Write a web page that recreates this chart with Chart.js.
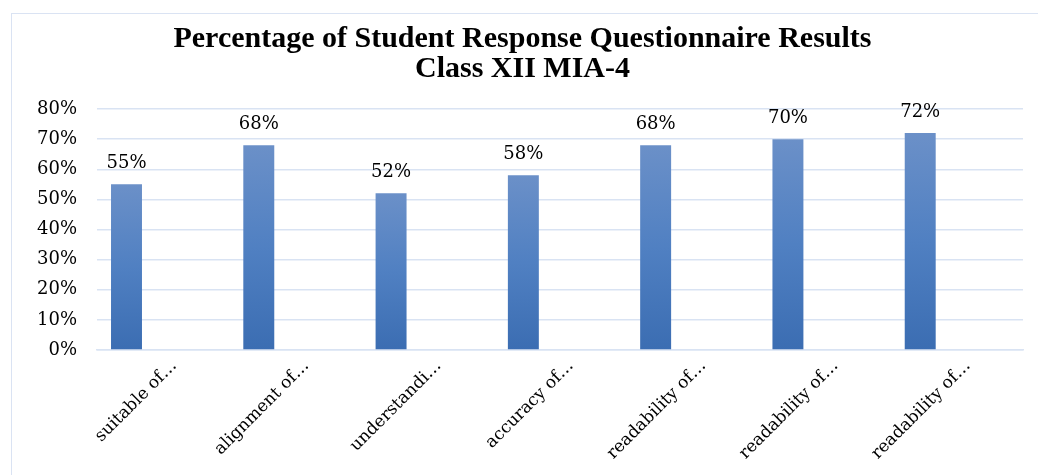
<!DOCTYPE html>
<html>
<head>
<meta charset="utf-8">
<script src="https://cdn.jsdelivr.net/npm/chart.js@4/dist/chart.umd.min.js"></script>
<style>
  html, body { margin: 0; padding: 0; background: #ffffff; overflow: hidden; }
  #frame { position: absolute; left: 11px; top: 13px; width: 1060px; height: 500px; border: 1.5px solid #dae3f3; box-sizing: border-box; }
  #c { position: absolute; left: 0; top: 0; }
</style>
</head>
<body>
<div id="frame"></div>
<canvas id="c" width="1038" height="475"></canvas>
<script>
const titleLines = ["Percentage of Student Response Questionnaire Results", "Class XII MIA-4"];
const categories = ["suitable of…", "alignment of…", "understandi…", "accuracy of…", "readability of…", "readability of…", "readability of…"];
const percentValues = [0.55, 0.68, 0.52, 0.58, 0.68, 0.70, 0.72];
const emptySeriesA = [null, null, null, null, null, null, null];
const emptySeriesB = [null, null, null, null, null, null, null];
const yTickMax = 0.8;
const yTickStep = 0.1;

const serif = "'DejaVu Serif', serif";

function barGradient(ctx) {
  const chart = ctx.chart;
  const area = chart.chartArea;
  if (!area || ctx.raw == null) return '#4f7fc0';
  const yScale = chart.scales.y;
  const top = yScale.getPixelForValue(ctx.raw);
  const bottom = yScale.getPixelForValue(0);
  const g = chart.ctx.createLinearGradient(0, top, 0, bottom);
  g.addColorStop(0, '#6b90c8');
  g.addColorStop(0.5, '#5080c2');
  g.addColorStop(1, '#3b6db2');
  return g;
}

const valueLabels = {
  id: 'valueLabels',
  afterDatasetsDraw(chart) {
    const ctx = chart.ctx;
    const meta = chart.getDatasetMeta(0);
    ctx.save();
    ctx.font = "18px " + serif;
    ctx.fillStyle = '#000000';
    ctx.textAlign = 'center';
    ctx.textBaseline = 'alphabetic';
    meta.data.forEach((bar, i) => {
      const v = chart.data.datasets[0].data[i];
      if (v == null) return;
      ctx.fillText(Math.round(v * 100) + '%', bar.x, bar.y - 16);
    });
    ctx.restore();
  }
};

new Chart(document.getElementById('c'), {
  type: 'bar',
  data: {
    labels: categories,
    datasets: [
      { data: percentValues, backgroundColor: barGradient, borderWidth: 0 },
      { data: emptySeriesA, backgroundColor: '#ed7d31', borderWidth: 0 },
      { data: emptySeriesB, backgroundColor: '#a5a5a5', borderWidth: 0 }
    ]
  },
  options: {
    responsive: false,
    animation: false,
    events: [],
    categoryPercentage: 0.831,
    barPercentage: 0.845,
    layout: { padding: { left: 7, right: 0, top: 0, bottom: 0 } },
    plugins: {
      legend: { display: false },
      tooltip: { enabled: false },
      title: {
        display: true,
        text: titleLines,
        color: '#000000',
        font: { family: "'Liberation Serif', serif", size: 30, weight: 'bold', lineHeight: 1.0 },
        padding: { top: 24, bottom: 25 }
      }
    },
    scales: {
      x: {
        grid: { display: false, drawTicks: false },
        border: { display: true, color: '#d9e3f3', width: 1.5 },
        ticks: {
          color: '#000000',
          font: { family: serif, size: 17 },
          minRotation: 45,
          maxRotation: 45,
          autoSkip: false,
          padding: 6,
          labelOffset: 11
        },
        afterFit(scale) { scale.height = 125; }
      },
      y: {
        min: 0,
        max: yTickMax,
        grid: { color: '#d9e3f3', lineWidth: 1.5, drawTicks: false },
        border: { display: false },
        ticks: {
          stepSize: yTickStep,
          color: '#000000',
          font: { family: serif, size: 18 },
          padding: 20,
          callback: (v) => Math.round(v * 100) + '%'
        },
        afterFit(scale) { scale.width = 90; }
      },
      ySpacer: {
        position: 'right',
        min: 0,
        max: yTickMax,
        grid: { display: false, drawTicks: false },
        border: { display: false },
        ticks: { display: false },
        afterFit(scale) { scale.width = 15; }
      }
    }
  },
  plugins: [valueLabels]
});
</script>
</body>
</html>
